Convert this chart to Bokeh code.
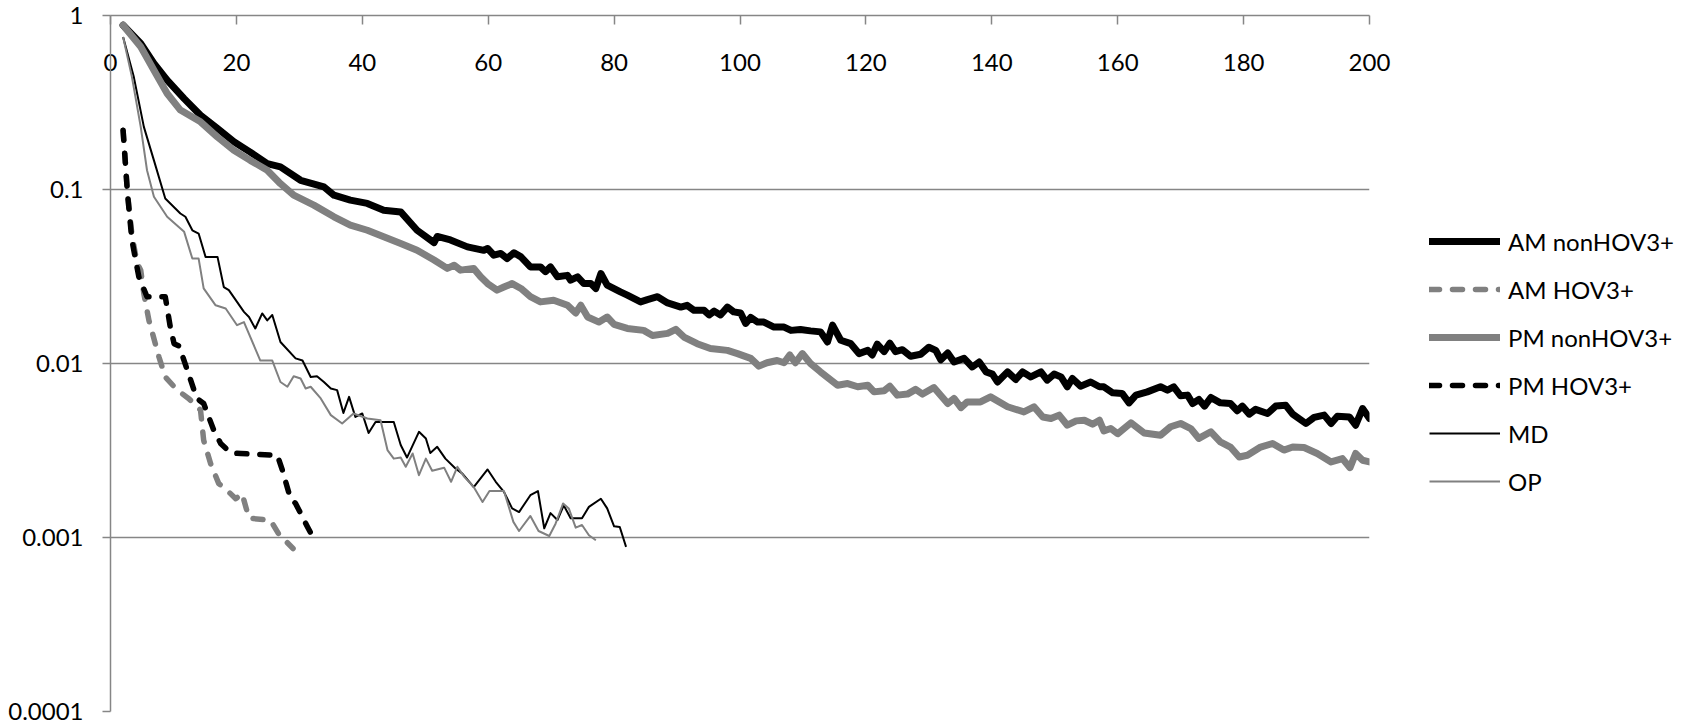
from bokeh.plotting import figure
from bokeh.layouts import row
from bokeh.models import (Range1d, FixedTicker, CustomJSTickFormatter, Legend, LegendItem)
from bokeh.embed import file_html
from bokeh.resources import INLINE

# ---------------- data ----------------
am_non_x = [2.0, 4.8, 6.9, 9.0, 11.7, 14.3, 17.0, 19.6, 22.2, 24.9, 27.0, 30.2, 33.9, 35.5, 38.1, 40.8,
            43.4, 46.1, 48.7, 51.4, 51.9, 54.0, 56.7, 59.3, 59.9, 60.9, 62.0, 63.0, 64.1, 65.2, 66.7, 68.3,
            69.1, 69.9, 71.0, 72.6, 73.1, 74.2, 75.2, 76.3, 77.1, 77.9, 78.9, 81.0, 82.1, 84.2, 85.3, 86.9,
            88.5, 90.6, 91.6, 92.7, 94.3, 95.1, 95.9, 96.9, 98.0, 99.0, 100.1, 100.9, 101.7, 102.8, 103.8,
            105.4, 107.0, 108.1, 109.6, 111.2, 112.8, 113.9, 114.7, 116.0, 117.6, 118.9, 120.3, 121.0, 121.8,
            122.9, 123.8, 124.7, 125.8, 127.1, 128.7, 130.0, 131.1, 131.9, 133.0, 134.0, 135.6, 136.9, 138.0,
            139.1, 140.1, 140.9, 142.5, 143.8, 144.9, 146.2, 147.8, 148.8, 149.9, 151.0, 152.0, 152.8, 154.1,
            155.7, 157.1, 157.8, 159.2, 160.7, 161.8, 162.9, 164.7, 166.8, 167.9, 168.9, 170.0, 171.1, 171.9,
            172.9, 173.8, 174.8, 176.3, 177.9, 179.0, 179.8, 180.9, 181.9, 183.8, 185.1, 186.7, 187.8, 189.9,
            191.2, 192.8, 193.9, 194.9, 196.8, 197.8, 198.9, 200.0]
am_non_y = [0.879, 0.690, 0.530, 0.425, 0.333, 0.267, 0.224, 0.188, 0.164, 0.141, 0.135, 0.113, 0.1035, 0.0927,
            0.0869, 0.0832, 0.0760, 0.0743, 0.0583, 0.0495, 0.0537, 0.0513, 0.0468, 0.0447, 0.0458, 0.0419,
            0.0429, 0.0401, 0.0433, 0.0410, 0.0359, 0.0359, 0.0337, 0.0359, 0.0315, 0.0321, 0.0301, 0.0315,
            0.0288, 0.0288, 0.0270, 0.0329, 0.0282, 0.0258, 0.0247, 0.0226, 0.0233, 0.0242, 0.0223, 0.0211,
            0.0216, 0.0202, 0.0202, 0.0190, 0.0200, 0.0190, 0.0211, 0.0198, 0.0195, 0.0170, 0.0184, 0.0173,
            0.0173, 0.0162, 0.0162, 0.0155, 0.0157, 0.0154, 0.0152, 0.0133, 0.0166, 0.0136, 0.0130, 0.0114,
            0.0119, 0.0112, 0.0129, 0.0117, 0.0131, 0.0117, 0.0120, 0.0110, 0.0113, 0.0124, 0.0119, 0.0105,
            0.0115, 0.0102, 0.0107, 0.00955, 0.0102, 0.00895, 0.00869, 0.00783, 0.00895, 0.00809, 0.00895,
            0.00837, 0.00895, 0.00802, 0.00869, 0.00837, 0.00735, 0.00820, 0.00741, 0.00783, 0.00735, 0.00735,
            0.00678, 0.00673, 0.00594, 0.00658, 0.00687, 0.00735, 0.00703, 0.00735, 0.00652, 0.00658, 0.00589,
            0.00621, 0.00569, 0.00638, 0.00594, 0.00589, 0.00535, 0.00569, 0.00512, 0.00545, 0.00516, 0.00569,
            0.00575, 0.00512, 0.00452, 0.00490, 0.00505, 0.00452, 0.00498, 0.00493, 0.00442, 0.00551, 0.00483]

pm_non_x = [2.0, 4.8, 6.9, 9.0, 11.1, 14.3, 17.0, 19.6, 22.2, 24.9, 27.0, 29.1, 32.3, 35.5, 38.1, 40.8, 43.4,
            46.1, 48.7, 51.4, 53.5, 54.6, 55.6, 57.7, 58.8, 59.9, 61.4, 62.5, 63.8, 65.2, 66.7, 68.3, 70.4,
            72.6, 73.9, 74.7, 75.8, 77.6, 78.9, 80.0, 82.1, 84.7, 86.1, 88.5, 89.8, 91.1, 93.2, 95.3, 98.0,
            99.6, 101.7, 103.0, 104.3, 105.9, 107.0, 107.9, 108.8, 109.9, 111.2, 112.8, 115.5, 117.1, 118.7,
            120.3, 121.3, 122.9, 123.8, 125.0, 126.6, 127.9, 129.0, 130.8, 133.0, 134.0, 135.1, 136.1, 138.2,
            139.8, 142.5, 145.1, 146.7, 148.1, 149.4, 150.7, 152.0, 153.4, 154.7, 156.0, 157.1, 157.8, 158.9,
            160.0, 162.1, 164.2, 166.8, 168.4, 170.0, 171.6, 172.9, 174.8, 176.3, 177.9, 179.3, 180.6, 182.7,
            184.6, 186.4, 187.8, 189.6, 191.7, 193.9, 195.7, 196.9, 197.8, 198.9, 200.0]
pm_non_y = [0.879, 0.661, 0.485, 0.356, 0.286, 0.245, 0.200, 0.168, 0.147, 0.129, 0.108, 0.0927, 0.0813,
            0.0697, 0.0624, 0.0583, 0.0535, 0.0490, 0.0448, 0.0393, 0.0352, 0.0367, 0.0344, 0.0352, 0.0315,
            0.0288, 0.0264, 0.0275, 0.0288, 0.0270, 0.0242, 0.0226, 0.0231, 0.0216, 0.0195, 0.0216, 0.0185,
            0.0173, 0.0185, 0.0168, 0.0159, 0.0155, 0.0145, 0.0149, 0.0157, 0.0142, 0.0130, 0.0122, 0.0119,
            0.0114, 0.0107, 0.00966, 0.0101, 0.0104, 0.0101, 0.0112, 0.0101, 0.0114, 0.0100, 0.00895, 0.00750,
            0.00767, 0.00735, 0.00750, 0.00687, 0.00697, 0.00741, 0.00658, 0.00667, 0.00710, 0.00667, 0.00728,
            0.00589, 0.00630, 0.00558, 0.00601, 0.00601, 0.00643, 0.00564, 0.00527, 0.00564, 0.00493, 0.00483,
            0.00505, 0.00442, 0.00468, 0.00472, 0.00448, 0.00472, 0.00410, 0.00423, 0.00395, 0.00456, 0.00399,
            0.00387, 0.00433, 0.00452, 0.00423, 0.00371, 0.00405, 0.00354, 0.00331, 0.00290, 0.00297, 0.00331,
            0.00347, 0.00318, 0.00331, 0.00329, 0.00304, 0.00272, 0.00284, 0.00252, 0.00304, 0.00278, 0.00272]

am_hov_x = [2.0, 2.7, 3.4, 4.2, 4.8, 5.3, 6.1, 7.7, 8.7, 10.6, 12.4, 14.3, 14.8, 15.9, 17.2, 18.5, 19.9,
            20.9, 22.0, 25.4, 26.7, 29.0]
am_hov_y = [0.219, 0.0955, 0.0550, 0.0380, 0.0344, 0.0252, 0.0177, 0.0109, 0.00837, 0.00703, 0.00630,
            0.00540, 0.00362, 0.00266, 0.00204, 0.00187, 0.00167, 0.00179, 0.00129, 0.00126, 0.00105, 0.000865]

pm_hov_x = [2.0, 2.7, 3.4, 4.5, 5.8, 8.7, 9.5, 10.1, 10.9, 12.2, 13.7, 14.8, 16.4, 17.5, 19.1, 20.7, 26.5,
            27.3, 28.6, 29.4, 31.3, 32.0, 33.1]
pm_hov_y = [0.219, 0.0948, 0.0512, 0.0315, 0.0242, 0.0242, 0.0162, 0.0130, 0.0126, 0.00916, 0.00631,
            0.00589, 0.00414, 0.00347, 0.00306, 0.00304, 0.00297, 0.00244, 0.00167, 0.00157, 0.00115,
            0.00103, 0.000975]

md_x = [2.0, 3.7, 5.3, 6.9, 8.7, 11.1, 11.9, 13.0, 14.0, 15.1, 17.0, 18.0, 18.8, 21.2, 22.0, 23.0, 24.1,
        24.9, 25.7, 27.0, 29.4, 30.5, 31.8, 32.8, 33.9, 35.0, 36.0, 37.0, 37.9, 38.9, 40.0, 41.0, 42.1,
        45.0, 46.1, 47.1, 49.0, 50.1, 50.8, 51.9, 53.2, 54.8, 55.9, 57.7, 59.9, 61.2, 62.5, 63.8, 64.9,
        66.7, 67.9, 68.9, 69.9, 71.0, 72.0, 73.1, 74.9, 76.0, 77.9, 78.9, 80.0, 80.9, 81.9]
md_y = [0.753, 0.444, 0.229, 0.147, 0.0887, 0.0728, 0.0697, 0.0583, 0.0558, 0.0410, 0.0410, 0.0275, 0.0264,
        0.0198, 0.0185, 0.0159, 0.0194, 0.0177, 0.0190, 0.0133, 0.0107, 0.0104, 0.00837, 0.00845, 0.00783,
        0.00718, 0.00703, 0.00520, 0.00643, 0.00493, 0.00516, 0.00399, 0.00461, 0.00461, 0.00340, 0.00288,
        0.00405, 0.00371, 0.00306, 0.00332, 0.00284, 0.00249, 0.00233, 0.00195, 0.00246, 0.00209, 0.00183,
        0.00147, 0.00140, 0.00175, 0.00185, 0.00113, 0.00138, 0.00126, 0.00153, 0.00129, 0.00129, 0.00150,
        0.00167, 0.00147, 0.00116, 0.00115, 0.000883]

op_x = [2.0, 3.4, 4.8, 5.8, 6.9, 9.0, 11.7, 13.0, 14.0, 14.8, 16.7, 18.3, 20.1, 21.2, 23.8, 25.7, 27.0,
        28.1, 29.1, 30.2, 31.0, 31.8, 33.4, 35.0, 36.8, 38.6, 40.8, 42.9, 44.0, 45.0, 46.1, 46.9, 48.0,
        49.0, 50.1, 51.1, 53.0, 54.1, 55.1, 56.2, 57.7, 59.1, 60.2, 62.5, 64.0, 64.9, 66.7, 68.0, 69.7,
        70.7, 71.9, 72.8, 73.9, 74.9, 76.0, 77.1]
op_y = [0.753, 0.444, 0.229, 0.129, 0.0908, 0.0697, 0.0571, 0.0401, 0.0401, 0.0270, 0.0216, 0.0207, 0.0166,
        0.0173, 0.0104, 0.0104, 0.00783, 0.00735, 0.00845, 0.00820, 0.00718, 0.00735, 0.00630, 0.00505,
        0.00452, 0.00516, 0.00483, 0.00472, 0.00318, 0.00284, 0.00288, 0.00255, 0.00304, 0.00228, 0.00284,
        0.00242, 0.00252, 0.00209, 0.00255, 0.00223, 0.00195, 0.00160, 0.00185, 0.00185, 0.00123, 0.00109,
        0.00133, 0.00109, 0.00102, 0.00120, 0.00157, 0.00147, 0.00114, 0.00118, 0.00103, 0.000964]

series_names = ["AM nonHOV3+", "AM HOV3+", "PM nonHOV3+", "PM HOV3+", "MD", "OP"]
x_ticks = [0, 20, 40, 60, 80, 100, 120, 140, 160, 180, 200]
y_ticks = [0.0001, 0.001, 0.01, 0.1, 1]

# ---------------- styles ----------------
FONT = "Lato"
FSIZE = "24px"
GRID = "#868686"
GRAY = "#808080"
styles = [
    dict(line_color="black", line_width=7, line_join="round", line_cap="round"),
    dict(line_color=GRAY, line_width=5.5, line_dash="10 13", line_join="round", line_cap="round"),
    dict(line_color=GRAY, line_width=7, line_join="round", line_cap="round"),
    dict(line_color="black", line_width=5.5, line_dash="10 13", line_join="round", line_cap="round"),
    dict(line_color="black", line_width=2, line_join="round"),
    dict(line_color=GRAY, line_width=2, line_join="round"),
]
series = [(am_non_x, am_non_y), (am_hov_x, am_hov_y), (pm_non_x, pm_non_y),
          (pm_hov_x, pm_hov_y), (md_x, md_y), (op_x, op_y)]

# ---------------- main chart ----------------
p = figure(width=1400, height=724, output_backend="svg", toolbar_location=None,
           y_axis_type="log", x_axis_location="above",
           x_range=Range1d(0, 200), y_range=Range1d(0.0001, 1),
           min_border_left=110, min_border_right=31, min_border_top=15, min_border_bottom=13)
p.outline_line_color = None
p.background_fill_color = "white"
p.border_fill_color = "white"

xa = p.xaxis[0]
xa.ticker = FixedTicker(ticks=x_ticks)
xa.axis_line_color = GRID
xa.axis_line_width = 1.5
xa.major_tick_line_color = GRID
xa.major_tick_line_width = 1.5
xa.major_tick_in = 9
xa.major_tick_out = 0
xa.minor_tick_line_color = None
xa.major_label_standoff = -55
xa.major_label_text_font = FONT
xa.major_label_text_font_size = FSIZE
xa.major_label_text_color = "black"

ya = p.yaxis[0]
ya.ticker = FixedTicker(ticks=y_ticks)
ya.formatter = CustomJSTickFormatter(code="return tick.toString();")
ya.axis_line_color = GRID
ya.axis_line_width = 1.5
ya.major_tick_line_color = GRID
ya.major_tick_line_width = 1.5
ya.major_tick_in = 0
ya.major_tick_out = 8
ya.minor_tick_line_color = None
ya.major_label_standoff = 19
ya.major_label_text_font = FONT
ya.major_label_text_font_size = FSIZE
ya.major_label_text_color = "black"

p.xgrid.visible = False
p.ygrid.ticker = FixedTicker(ticks=y_ticks)
p.ygrid.grid_line_color = GRID
p.ygrid.grid_line_width = 1.5

for (sx, sy), st in zip(series, styles):
    p.line(sx, sy, **st)

# ---------------- legend panel ----------------
# The same series are plotted here only so that the legend has its glyphs;
# the y range lies above every value, so nothing shows in this panel's frame.
q = figure(width=282, height=724, output_backend="svg", toolbar_location=None,
           x_axis_type=None, y_axis_type=None,
           x_range=Range1d(0, 200), y_range=Range1d(10, 20),
           min_border_left=0, min_border_right=0, min_border_top=0, min_border_bottom=0)
q.outline_line_color = None
q.xgrid.visible = False
q.ygrid.visible = False
q.background_fill_color = "white"
q.border_fill_color = "white"
legend_renderers = [q.line(sx, sy, **st) for (sx, sy), st in zip(series, styles)]
legend = Legend(items=[LegendItem(label=n, renderers=[r]) for n, r in zip(series_names, legend_renderers)],
                location=(29, 215), orientation="vertical",
                glyph_width=71, glyph_height=30, label_height=30, label_standoff=8, spacing=18,
                padding=0, margin=0, border_line_color=None, background_fill_alpha=0,
                label_text_font=FONT, label_text_font_size=FSIZE, label_text_color="black")
q.add_layout(legend, "center")

layout = row(p, q, spacing=0)
open("out.html", "w").write(file_html(layout, INLINE))
